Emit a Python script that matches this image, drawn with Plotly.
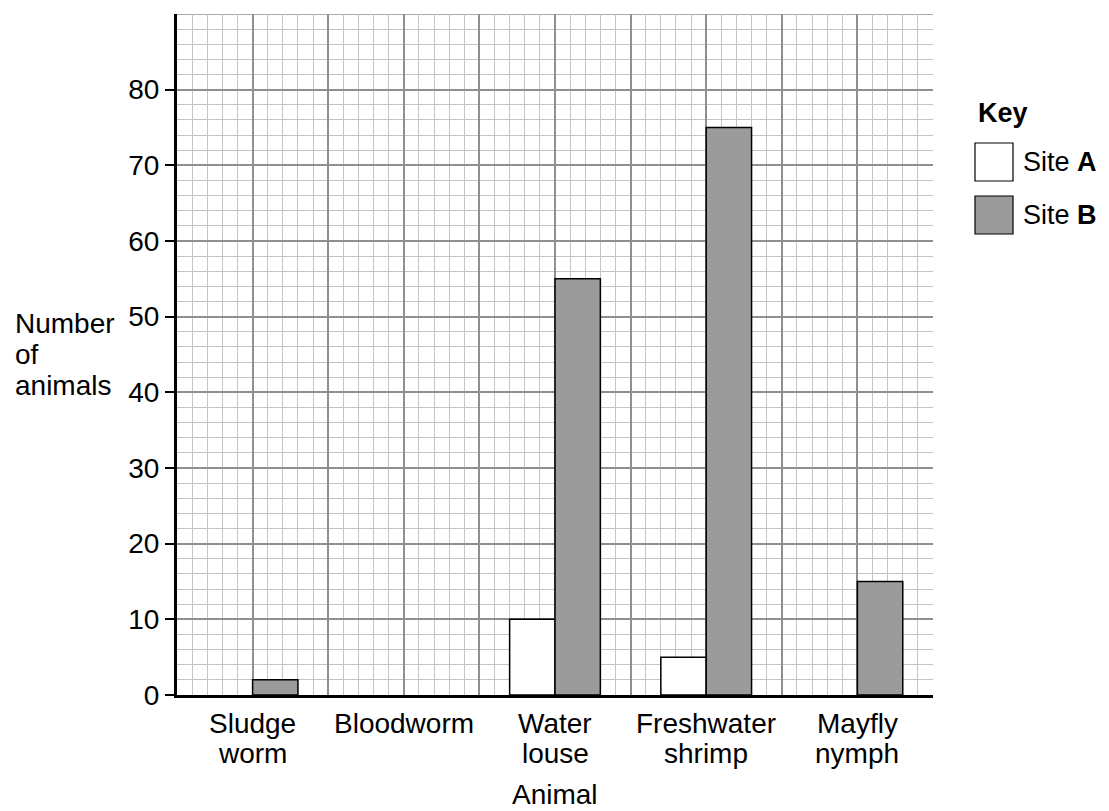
import plotly.graph_objects as go

categories = ["Sludge\nworm", "Bloodworm", "Water\nlouse", "Freshwater\nshrimp", "Mayfly\nnymph"]
site_a = [0, 0, 10, 5, 0]
site_b = [2, 0, 55, 75, 15]
y_ticks = [0, 10, 20, 30, 40, 50, 60, 70, 80]
y_max = 90
y_title_lines = ["Number", "of", "animals"]

FONT = "Liberation Sans, Arial, sans-serif"
FS = 28
MAJOR = "#8f8f8f"
MINOR = "#c4c4c4"
GREY_BAR = "#9b9b9b"

# page geometry (page body has an 8px margin)
PL, PR, PT, PB = 177, 933, 14, 695


def px_x(px):
    return (px - PL) / float(PR - PL)


def px_y(py):
    return (PB - py) / float(PB - PT)


xpos = list(range(len(categories)))
half_vals = [i * 0.5 - 0.5 for i in range(2 * len(categories) + 1)]
bounds = [i - 0.5 for i in range(len(categories) + 1)]

fig = go.Figure()
for name, vals, color in [("Site A", site_a, "white"), ("Site B", site_b, GREY_BAR)]:
    fig.add_trace(go.Bar(
        x=xpos, y=vals, name=name,
        marker=dict(color=color,
                    line=dict(color="black", width=[1.5 if v > 0 else 0 for v in vals])),
        showlegend=False, hoverinfo="skip"))

fig.update_layout(
    width=1101, height=803,
    margin=dict(l=PL - 8, r=1109 - PR, t=PT - 8, b=811 - PB),
    paper_bgcolor="white", plot_bgcolor="white",
    barmode="group", bargap=0.4, bargroupgap=0,
    font=dict(family=FONT, size=FS, color="black"),
    xaxis=dict(
        range=[-0.5, len(categories) - 0.5],
        tickmode="array", tickvals=half_vals, ticktext=["" for _ in half_vals],
        ticks="", showgrid=True, gridcolor=MAJOR, gridwidth=1.5,
        minor=dict(dtick=0.1, tick0=-0.5, showgrid=True, gridcolor=MINOR, gridwidth=1),
        showline=True, linecolor="black", linewidth=3,
        zeroline=False,
    ),
    xaxis2=dict(
        overlaying="x", anchor="y", side="bottom",
        range=[-0.5, len(categories) - 0.5],
        tickmode="array", tickvals=bounds, ticks="outside", ticklen=9,
        tickwidth=1.5, tickcolor="black", showticklabels=False,
        showgrid=False, showline=False, zeroline=False,
    ),
    yaxis=dict(
        range=[0, y_max],
        tickmode="array", tickvals=y_ticks,
        ticks="outside", ticklen=9, tickwidth=1.5, tickcolor="black",
        showgrid=True, gridcolor=MAJOR, gridwidth=1.5,
        minor=dict(dtick=2, tick0=0, showgrid=True, gridcolor=MINOR, gridwidth=1),
        showline=True, linecolor="black", linewidth=3,
        zeroline=False, tickfont=dict(size=FS, family=FONT),
    ),
)

# top border of the grid (major line at 90)
fig.add_shape(type="line", xref="paper", yref="y", x0=0, x1=1, y0=y_max, y1=y_max,
              line=dict(color=MAJOR, width=1.5), layer="below")

# category labels (two lines, tight spacing)
line_y = [723, 753]
for i, cat in enumerate(categories):
    for j, part in enumerate(cat.split("\n")):
        fig.add_annotation(text=part, xref="x", yref="paper", x=i, y=px_y(line_y[j]),
                           xanchor="center", yanchor="middle", showarrow=False,
                           font=dict(size=FS, family=FONT))

# y-axis title
for j, part in enumerate(y_title_lines):
    fig.add_annotation(text=part, xref="paper", yref="paper",
                       x=px_x(13), y=px_y(323 + 31 * j), xanchor="left", yanchor="middle",
                       showarrow=False, font=dict(size=FS, family=FONT))

# x-axis title
fig.add_annotation(text="Animal", xref="paper", yref="paper",
                   x=0.5, y=px_y(794), xanchor="center", yanchor="middle",
                   showarrow=False, font=dict(size=FS, family=FONT))

# key
fig.add_annotation(text="<b>Key</b>", xref="paper", yref="paper",
                   x=px_x(976), y=px_y(113), xanchor="left", yanchor="middle",
                   showarrow=False, font=dict(size=FS - 1, family=FONT))
key_items = [("Site <b>A</b>", "white", 143), ("Site <b>B</b>", GREY_BAR, 196)]
for label, color, top in key_items:
    fig.add_shape(type="rect", xref="paper", yref="paper",
                  x0=px_x(975), x1=px_x(1013), y0=px_y(top + 38), y1=px_y(top),
                  fillcolor=color, line=dict(color="black", width=1.2))
    fig.add_annotation(text=label, xref="paper", yref="paper",
                       x=px_x(1021), y=px_y(top + 19), xanchor="left", yanchor="middle",
                       showarrow=False, font=dict(size=FS - 1, family=FONT))

fig.write_html("out.html")
